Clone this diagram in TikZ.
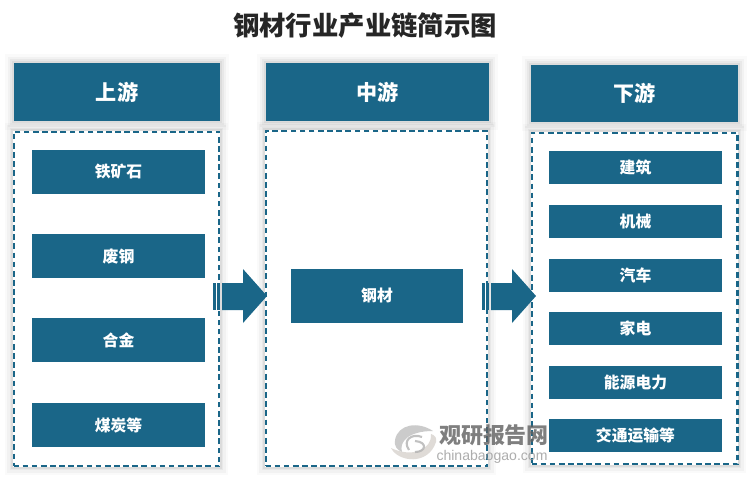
\documentclass[tikz,border=0pt]{standalone}
\usepackage{xcolor}
\usepackage{fontspec}
\setmainfont{Noto Sans CJK SC}
\setsansfont{Liberation Sans}
\usetikzlibrary{calc}
\usetikzlibrary{positioning}
\definecolor{steel}{HTML}{1A6688}
\tikzset{
  softshade/.style={
    preaction={draw=black, solid, opacity=.02, line width=10pt},
    preaction={draw=black, solid, opacity=.03, line width=7pt},
    preaction={draw=black, solid, opacity=.04, line width=4.5pt},
    preaction={draw=black, solid, opacity=.05, line width=2.5pt}},
  headbox/.style={rectangle, softshade, fill=steel, text=white, inner sep=0pt, font=\fontsize{12}{14}\selectfont\bfseries},
  itembox/.style={rectangle, fill=steel, text=white, inner sep=0pt, font=\fontsize{9}{11}\selectfont\bfseries},
  framefill/.style={rectangle, softshade, fill=white, draw=white, line width=.8pt, inner sep=0pt},
  dashbox/.style={rectangle, draw=steel, dash pattern=on 3.2pt off 2pt, line width=1.15pt, inner sep=0pt},
  flowpart/.style={fill=steel}
}
\begin{document}
\begin{tikzpicture}[x=0.02cm, y=-0.02cm]
\useasboundingbox (0,0) rectangle (750,481);
\fill [white] (0,0) rectangle (750,481);
\node [inner sep=0pt, font=\fontsize{15}{18}\selectfont\bfseries, text=black!85] (title) at (365,26) {钢材行业产业链简示图};
% outer frames
\foreach \name/\xpos/\ypos/\wid/\hgt in {upframe/116.5/299/4.12/6.7, midframe/376.5/298.5/4.44/6.72, downframe/634.5/298.5/4.12/6.64} {
  \node [framefill, minimum width=\wid cm, minimum height=\hgt cm] (\name back) at (\xpos,\ypos) {};
  \node [dashbox, minimum width=\wid cm, minimum height=\hgt cm] (\name) at (\xpos,\ypos) {};
}
% headers
\node [headbox, minimum width=4.12cm, minimum height=1.16cm] (uphead) at (117,92) {上游};
\node [headbox, minimum width=4.46cm, minimum height=1.16cm] (midhead) at (377.5,92) {中游};
\node [headbox, minimum width=4.14cm, minimum height=1.14cm] (downhead) at (634.5,93.5) {下游};
% left column
\foreach \name/\ypos/\label in {ore/172/铁矿石, scrap/256/废钢, alloy/340/合金, coal/425/煤炭等}
  \node [itembox, minimum width=3.46cm, minimum height=.88cm] (\name) at (118.5,\ypos) {\label};
% middle
\node [itembox, minimum width=3.44cm, minimum height=1.08cm] (steel) at (377,296) {钢材};
% right column
\foreach \name/\ypos/\label in {build/167.5/建筑, mach/221.5/机械, car/275.5/汽车, home/328.5/家电, power/382.5/能源电力, trans/435.5/交通运输等}
  \node [itembox, minimum width=3.46cm, minimum height=.66cm] (\name) at (635.5,\ypos) {\label};
% block arrows
\foreach \shift in {0,269} {
  \fill [flowpart, xshift=\shift*0.02cm] (213,283) rectangle (216,310);
  \fill [flowpart, xshift=\shift*0.02cm] (217,283) rectangle (220,310);
  \fill [flowpart, xshift=\shift*0.02cm] (222,283) -- (243,283) -- (243,269) -- (267,296) -- (243,323) -- (243,310) -- (222,310) -- cycle;
}
% watermark
\begin{scope}[opacity=.8]
\fill [gray!50] (433,431) .. controls (418,421) and (398,424) .. (395,440) .. controls (394,446) and (397,450) .. (402,452)
  .. controls (399,442) and (408,431) .. (433,431) -- cycle;
\fill [brown!20!gray!35] (391,448) .. controls (398,462) and (428,466) .. (436,442) .. controls (437,438) and (435,435) .. (431,434)
  .. controls (432,450) and (412,458) .. (391,448) -- cycle;
\draw [gray!60, line width=1.2pt] (409,450) .. controls (402,440) and (412,433) .. (422,437);
\draw [gray!60, line width=1.2pt] (415,452) .. controls (426,452) and (428,442) .. (415,441);
\node [inner sep=0pt, text=gray!75!black, font=\fontsize{12.5}{14}\selectfont\bfseries] (mark) at (494,435) {观研报告网};
\node [inner sep=0pt, text=gray!80, font=\sffamily\fontsize{8}{9}\selectfont] (site) at (492,457) {chinabaogao.com};
\end{scope}
\end{tikzpicture}
\end{document}
